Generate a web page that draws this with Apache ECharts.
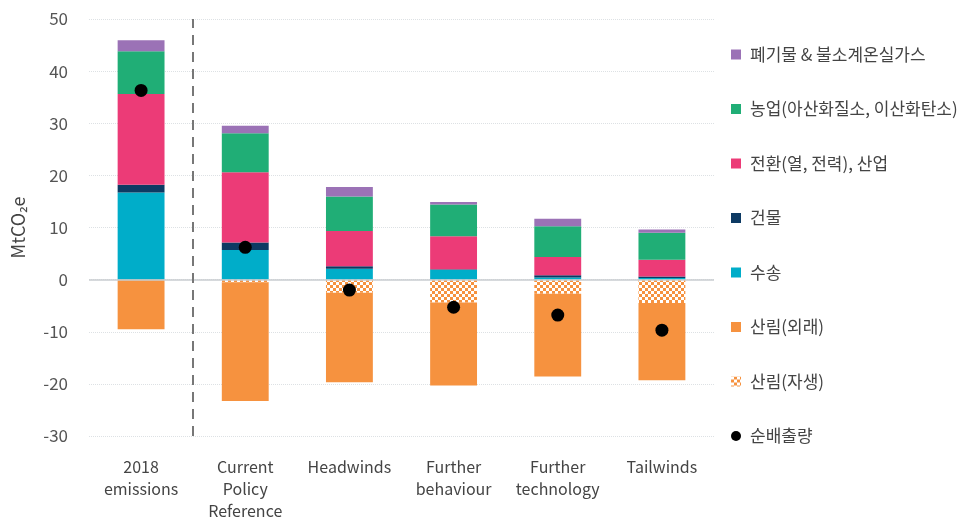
<!DOCTYPE html>
<html>
<head>
<meta charset="utf-8">
<script src="https://cdn.jsdelivr.net/npm/echarts@6/dist/echarts.min.js"></script>
<style>
  html, body { margin: 0; padding: 0; background: #fff; }
  #chart { width: 977px; height: 522px; }
</style>
</head>
<body>
<div id="chart"></div>
<script>
  // scenarios on the x axis
  const categories = ["2018\nemissions", "Current\nPolicy\nReference", "Headwinds", "Further\nbehaviour", "Further\ntechnology", "Tailwinds"];

  // MtCO2e
  const transport = [16.7, 5.7, 2.1, 1.9, 0.4, 0.3];
  const buildings = [1.5, 1.4, 0.45, 0.1, 0.45, 0.3];
  const energy = [17.4, 13.5, 6.8, 6.3, 3.5, 3.2];
  const agriculture = [8.2, 7.5, 6.6, 6.1, 5.9, 5.2];
  const waste = [2.1, 1.4, 1.8, 0.5, 1.45, 0.6];
  const forestNative = [0, -0.5, -2.5, -4.4, -2.7, -4.5];
  const forestExotic = [-9.5, -22.8, -17.2, -15.9, -15.9, -14.8];
  const netEmissions = [36.3, 6.2, -2.0, -5.3, -6.8, -9.7];

  // the dashed separator sits between the first and second scenario
  const separatorAt = 1;

  const names = {
    waste: "폐기물 & 불소계온실가스",
    agri: "농업(아산화질소, 이산화탄소)",
    energy: "전환(열, 전력), 산업",
    buildings: "건물",
    transport: "수송",
    exotic: "산림(외래)",
    native: "산림(자생)",
    net: "순배출량"
  };

  const colors = {
    waste: "#9b72b6",
    agri: "#20ae76",
    energy: "#ec3b77",
    buildings: "#0d3a63",
    transport: "#00adc9",
    exotic: "#f6923f"
  };

  // checker pattern for native forest
  const pat = document.createElement("canvas");
  pat.width = 6;
  pat.height = 6;
  const ctx = pat.getContext("2d");
  ctx.fillStyle = colors.exotic;
  ctx.fillRect(0, 0, 6, 6);
  ctx.fillStyle = "#fff";
  ctx.fillRect(0, 0, 3, 3);
  ctx.fillRect(3, 3, 3, 3);

  const font = "'Noto Sans CJK KR', 'Noto Sans', sans-serif";

  const bar = (name, data, color) => ({
    name: name,
    type: "bar",
    stack: "total",
    barWidth: "45%",
    data: data,
    itemStyle: { color: color }
  });

  const series = [
    bar(names.transport, transport, colors.transport),
    bar(names.buildings, buildings, colors.buildings),
    bar(names.energy, energy, colors.energy),
    bar(names.agri, agriculture, colors.agri),
    bar(names.waste, waste, colors.waste),
    bar(names.native, forestNative, { image: pat, repeat: "repeat" }),
    bar(names.exotic, forestExotic, colors.exotic),
    {
      name: names.net,
      type: "scatter",
      data: netEmissions,
      symbolSize: 13,
      itemStyle: { color: "#000", opacity: 1 },
      z: 5
    },
    {
      // carrier for the separator line, on a hidden value axis
      type: "scatter",
      xAxisIndex: 1,
      data: [],
      silent: true,
      markLine: {
        silent: true,
        symbol: "none",
        label: { show: false },
        lineStyle: { color: "#777", width: 2, type: [10, 7] },
        data: [{ xAxis: separatorAt }]
      }
    }
  ];
  // zero line
  series[0].markLine = {
    silent: true,
    symbol: "none",
    label: { show: false },
    lineStyle: { color: "#c8ccd0", width: 1.5, type: "solid" },
    data: [{ yAxis: 0 }]
  };

  const chart = echarts.init(document.getElementById("chart"));
  chart.setOption({
    animation: false,
    textStyle: { fontFamily: font },
    grid: { left: 89, right: 263, top: 19, bottom: 82 },
    legend: {
      orient: "vertical",
      left: 726,
      top: 41,
      itemWidth: 10,
      itemHeight: 10,
      itemGap: 37.5,
      data: [
        { name: names.waste, icon: "rect" },
        { name: names.agri, icon: "rect" },
        { name: names.energy, icon: "rect" },
        { name: names.buildings, icon: "rect" },
        { name: names.transport, icon: "rect" },
        { name: names.exotic, icon: "rect" },
        { name: names.native, icon: "rect" },
        { name: names.net, icon: "circle" }
      ],
      textStyle: { fontSize: 17, color: "#444", lineHeight: 16, padding: [0, 0, 0, 4], fontFamily: font }
    },
    xAxis: [
      {
        type: "category",
        data: categories,
        axisLine: { show: false, onZero: false },
        axisTick: { show: false },
        axisLabel: { fontSize: 16, lineHeight: 22, color: "#444", margin: 20, interval: 0 },
        splitLine: { show: false }
      },
      {
        type: "value",
        min: 0,
        max: categories.length,
        show: false
      }
    ],
    yAxis: {
      type: "value",
      min: -30,
      max: 50,
      interval: 10,
      name: "MtCO₂e",
      nameLocation: "middle",
      nameGap: 62,
      nameTextStyle: { fontSize: 18, color: "#444" },
      axisLine: { show: false },
      axisTick: { show: false },
      axisLabel: { fontSize: 17, color: "#555", margin: 21 },
      splitLine: { lineStyle: { color: "#dde1e4", type: "dotted", width: 1 } }
    },
    series: series
  });
</script>
</body>
</html>
